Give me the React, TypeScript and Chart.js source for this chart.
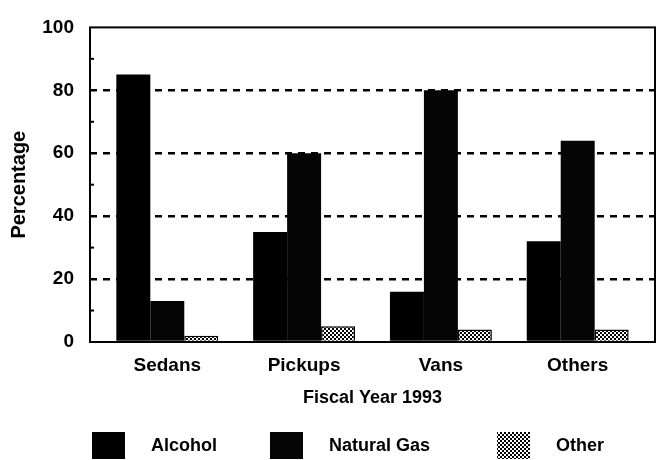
import { useEffect, useRef } from 'react';
import { Chart, registerables } from 'chart.js';

Chart.register(...registerables);

const categories = ['Sedans', 'Pickups', 'Vans', 'Others'];
const alcohol = [85, 35, 16, 32];
const naturalGas = [13, 60, 80, 64];
const other = [2, 5, 4, 4];
const seriesLabels = ['Alcohol', 'Natural Gas', 'Other'];
const yTickLabels = [0, 20, 40, 60, 80, 100];
const xTitle = 'Fiscal Year 1993';
const yTitle = 'Percentage';

const FONT = '"Liberation Sans", Arial, Helvetica, sans-serif';

function makePattern(): CanvasPattern | string {
  const c = document.createElement('canvas');
  c.width = 4;
  c.height = 4;
  const g = c.getContext('2d');
  if (!g) return '#888';
  g.fillStyle = '#fff';
  g.fillRect(0, 0, 4, 4);
  g.fillStyle = '#000';
  g.fillRect(0, 0, 2, 2);
  g.fillRect(2, 2, 2, 2);
  return g.createPattern(c, 'repeat') || '#888';
}

const framePlugin = {
  id: 'frame',
  afterDraw(chart: any) {
    const { ctx, chartArea } = chart;
    const y = chart.scales.y;
    ctx.save();
    ctx.strokeStyle = '#000';
    ctx.lineWidth = 2;
    ctx.strokeRect(chartArea.left, chartArea.top, chartArea.right - chartArea.left, chartArea.bottom - chartArea.top);
    ctx.lineWidth = 2;
    [10, 30, 50, 70, 90].forEach((v) => {
      const py = y.getPixelForValue(v);
      ctx.beginPath();
      ctx.moveTo(chartArea.left, py);
      ctx.lineTo(chartArea.left + 4, py);
      ctx.stroke();
    });
    ctx.restore();
  },
};

const legendGaps = [53, 67, 0];

const legendPlugin = {
  id: 'bottomLegend',
  afterDraw(chart: any) {
    const { ctx, chartArea } = chart;
    ctx.save();
    ctx.font = 'bold 18px ' + FONT;
    ctx.textBaseline = 'middle';
    ctx.textAlign = 'left';
    const cy = chart.height - 15;
    let x = chartArea.left + 2;
    chart.data.datasets.forEach((ds: any, i: number) => {
      ctx.fillStyle = ds.backgroundColor;
      ctx.fillRect(x, cy - 13, 33, 27);
      ctx.fillStyle = '#000';
      ctx.fillText(ds.label, x + 33 + 26, cy + 1);
      x += 33 + 26 + ctx.measureText(ds.label).width + legendGaps[i];
    });
    ctx.restore();
  },
};

export default function App() {
  const ref = useRef<HTMLCanvasElement | null>(null);

  useEffect(() => {
    if (!ref.current) return;
    const pattern = makePattern();
    const toPoints = (arr: number[]) => arr.map((v, i) => ({ x: i, y: v }));
    const chart = new Chart(ref.current, {
      type: 'bar',
      data: {
        datasets: [
          { label: seriesLabels[0], data: toPoints(alcohol) as any, backgroundColor: '#000', borderColor: '#000', borderWidth: 0 },
          { label: seriesLabels[1], data: toPoints(naturalGas) as any, backgroundColor: '#050505', borderColor: '#000', borderWidth: 0 },
          { label: seriesLabels[2], data: toPoints(other) as any, backgroundColor: pattern as any, borderColor: '#000', borderWidth: 1.5 },
        ],
      },
      plugins: [framePlugin, legendPlugin],
      options: {
        animation: false,
        responsive: true,
        maintainAspectRatio: false,
        layout: { padding: { top: 19, right: 2, left: 0, bottom: 0 } },
        datasets: { bar: { categoryPercentage: 0.745, barPercentage: 1 } } as any,
        plugins: { legend: { display: false }, tooltip: { enabled: false } },
        scales: {
          x: {
            type: 'linear',
            min: -0.565,
            max: 3.565,
            offset: false,
            grid: { display: false, drawTicks: false, offset: false },
            border: { display: false },
            afterBuildTicks: (scale: any) => {
              scale.ticks = scale.ticks.filter((t: any) => Number.isInteger(t.value) && t.value >= 0 && t.value < categories.length);
            },
            afterFit: (scale: any) => {
              scale.height = 118;
            },
            ticks: {
              stepSize: 1,
              includeBounds: false,
              autoSkip: false,
              maxRotation: 0,
              padding: 12,
              color: '#000',
              font: { family: FONT, size: 19, weight: 'bold' },
              callback: (v: any) => categories[v as number] ?? '',
            },
            title: {
              display: true,
              text: xTitle,
              color: '#000',
              font: { family: FONT, size: 18, weight: 'bold' },
              padding: { top: 4, bottom: 51 },
            },
          },
          y: {
            min: 0,
            max: 100,
            afterFit: (scale: any) => {
              scale.width = 90;
            },
            grid: {
              drawTicks: false,
              lineWidth: 2.5,
              color: (c: any) => {
                const v = c.tick ? c.tick.value : 0;
                return v > 0 && v < 100 && v % 20 === 0 ? '#000' : 'rgba(0,0,0,0)';
              },
            },
            border: { display: false, dash: [7, 6] },
            ticks: {
              stepSize: 10,
              padding: 16,
              color: '#000',
              font: { family: FONT, size: 19, weight: 'bold' },
              callback: (v: any) => (yTickLabels.includes(v as number) ? String(v) : ''),
            },
            title: {
              display: true,
              text: yTitle,
              color: '#000',
              font: { family: FONT, size: 20, weight: 'bold' },
              padding: { top: 7, bottom: 4 },
            },
          },
        },
      },
    });
    return () => chart.destroy();
  }, []);

  return (
    <div style={{ position: 'fixed', left: 0, top: 0, width: 657, height: 460, background: '#fff' }}>
      <canvas ref={ref} />
    </div>
  );
}
